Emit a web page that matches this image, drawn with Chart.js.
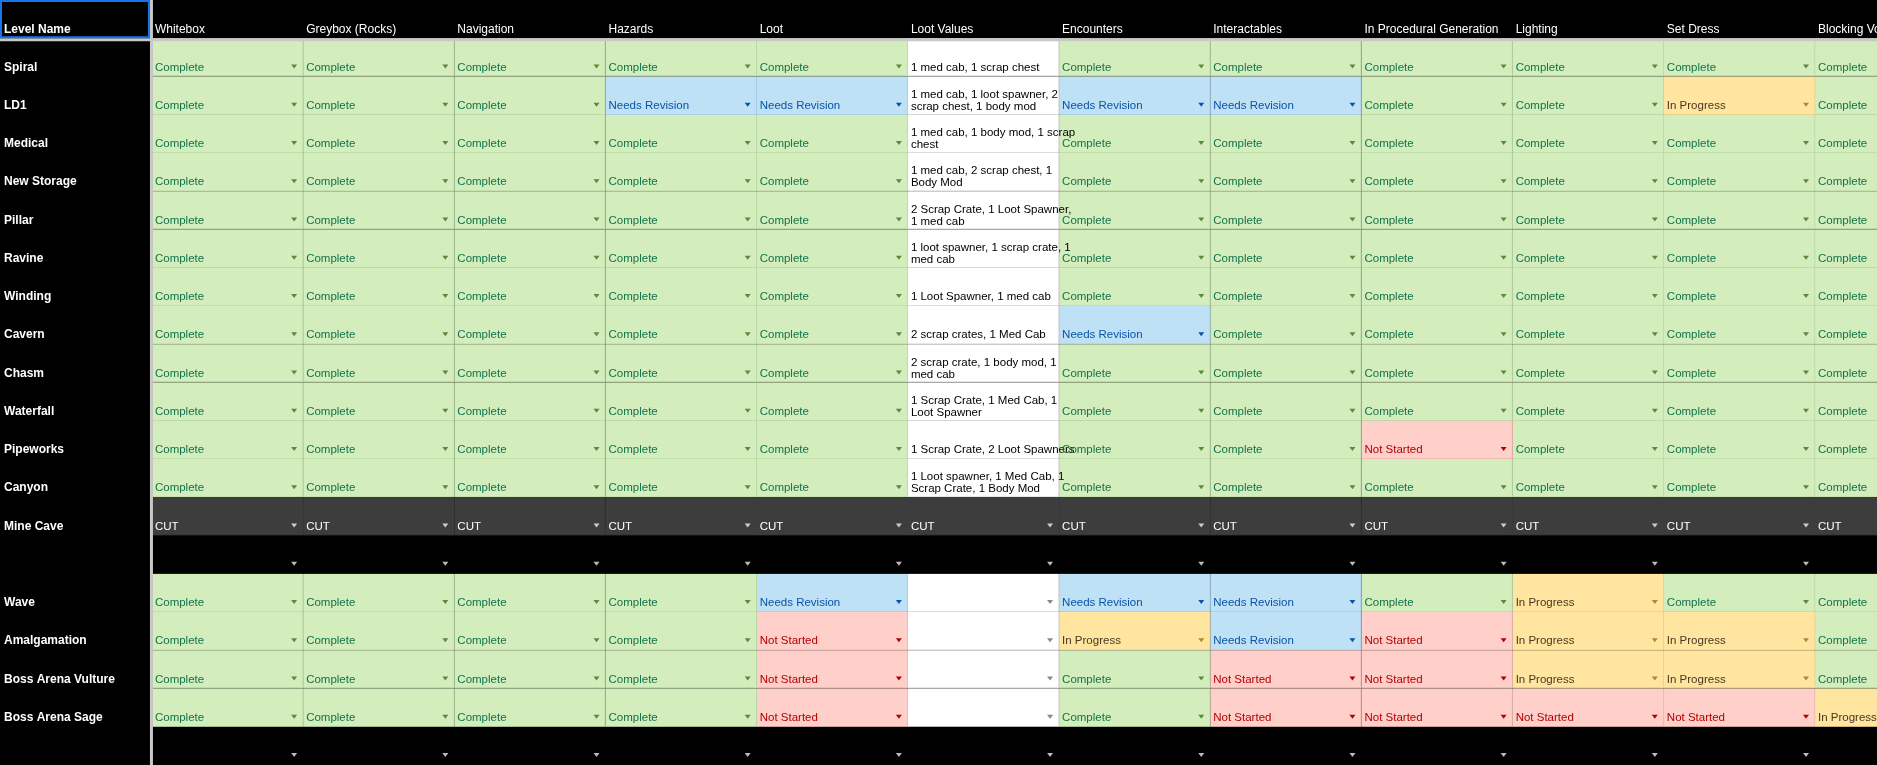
<!DOCTYPE html>
<html><head><meta charset="utf-8">
<script src="https://cdn.jsdelivr.net/npm/chart.js@4.4.1/dist/chart.umd.min.js"></script>
<style>html,body{margin:0;padding:0;background:#000;}#wrap{width:1877px;height:765px;}</style>
</head><body><div id="wrap"><canvas id="c"></canvas></div>
<script>
const columns = ['Whitebox','Greybox (Rocks)','Navigation','Hazards','Loot','Loot Values','Encounters','Interactables','In Procedural Generation','Lighting','Set Dress','Blocking Volumes'];
const levels = ['Spiral','LD1','Medical','New Storage','Pillar','Ravine','Winding','Cavern','Chasm','Waterfall','Pipeworks','Canyon','Mine Cave','','Wave','Amalgamation','Boss Arena Vulture','Boss Arena Sage',''];
// C=Complete N=Needs Revision P=In Progress S=Not Started X=CUT E=empty W=loot text
const status = [
 'CCCCCWCCCCCC',
 'CCCNNWNNCCPC',
 'CCCCCWCCCCCC',
 'CCCCCWCCCCCC',
 'CCCCCWCCCCCC',
 'CCCCCWCCCCCC',
 'CCCCCWCCCCCC',
 'CCCCCWNCCCCC',
 'CCCCCWCCCCCC',
 'CCCCCWCCCCCC',
 'CCCCCWCCSCCC',
 'CCCCCWCCCCCC',
 'XXXXXXXXXXXX',
 'EEEEEEEEEEEE',
 'CCCCNWNNCPCC',
 'CCCCSWPNSPPC',
 'CCCCSWCSSPPC',
 'CCCCSWCSSSSP',
 'EEEEEEEEEEEE'
];
const lootValues = ['1 med cab, 1 scrap chest','1 med cab, 1 loot spawner, 2\nscrap chest, 1 body mod','1 med cab, 1 body mod, 1 scrap\nchest','1 med cab, 2 scrap chest, 1\nBody Mod','2 Scrap Crate, 1 Loot Spawner,\n1 med cab','1 loot spawner, 1 scrap crate, 1\nmed cab','1 Loot Spawner, 1 med cab','2 scrap crates, 1 Med Cab','2 scrap crate, 1 body mod, 1\nmed cab','1 Scrap Crate, 1 Med Cab, 1\nLoot Spawner','1 Scrap Crate, 2 Loot Spawners','1 Loot spawner, 1 Med Cab, 1\nScrap Crate, 1 Body Mod','CUT','','','','','',''];

const STY = {
 C:{bg:'#d4edbc',fg:'#11734b',bd:'#b9d9a3',txt:'Complete',tri:'#5a8a3a'},
 N:{bg:'#bfe1f6',fg:'#0a53a8',bd:'#a3cbe6',txt:'Needs Revision',tri:'#0a53a8'},
 P:{bg:'#ffe5a0',fg:'#473821',bd:'#e8cf8a',txt:'In Progress',tri:'#b08a2a'},
 S:{bg:'#ffcfc9',fg:'#b10202',bd:'#eab6b0',txt:'Not Started',tri:'#b10202'},
 X:{bg:'#3d3d3d',fg:'#ffffff',bd:'#3d3d3d',txt:'CUT',tri:'#cccccc'},
 E:{bg:'#000000',fg:'#ffffff',bd:'#000000',txt:'',tri:'#bbbbbb'},
 W:{bg:'#ffffff',fg:'#000000',bd:'#d0d0d0',txt:'',tri:'#888888'}
};
const LEFTW = 1.005;
const yLabels = ['__header__'].concat(levels.map((l,i)=>'r'+i));
const datasets = [];
// level name column
datasets.push({label:'Level Name',data:yLabels.map(()=>[-LEFTW,0]),backgroundColor:'#000',borderWidth:0,meta:{kind:'level'}});
columns.forEach((col,j)=>{
  const bg=[],bd=[];
  yLabels.forEach((_,i)=>{
    if(i===0){bg.push('#000');bd.push('#000');return;}
    const s=STY[status[i-1][j]]; bg.push(s.bg); bd.push(s.bd);
  });
  datasets.push({label:col,data:yLabels.map(()=>[j,j+1]),backgroundColor:bg,borderColor:bd,
    borderWidth:{top:0,left:0,right:1,bottom:1},borderSkipped:false,meta:{kind:'col',j}});
});

const F='"Liberation Sans", Arial, sans-serif';
const textPlugin={id:'cells',
 beforeDraw(ch){const c=ch.ctx;c.save();c.fillStyle='#000';c.fillRect(0,0,ch.width,ch.height);c.restore();},
 afterDatasetsDraw(ch){
  const c=ch.ctx;c.save();c.textAlign='left';c.textBaseline='alphabetic';
  ch.data.datasets.forEach((ds,di)=>{
   const meta=ch.getDatasetMeta(di);
   meta.data.forEach((el,i)=>{
    const p=el.getProps(['x','y','base','height'],true);
    const left=Math.min(p.x,p.base), right=Math.max(p.x,p.base);
    const bottom=p.y+p.height/2;
    if(ds.meta.kind==='level'){
      c.fillStyle='#fff';c.font='bold 12px '+F;
      const t=i===0?'Level Name':levels[i-1];
      c.fillText(t,left+4,bottom-(i===0?5:6));
      return;
    }
    const j=ds.meta.j;
    if(i===0){c.fillStyle='#fff';c.font='12px '+F;c.fillText(columns[j],left+3,bottom-5);return;}
    const code=status[i-1][j];const s=STY[code];
    let txt=code==='W'?lootValues[i-1]:s.txt;
    c.fillStyle=s.fg;c.font='11.5px '+F;
    const lines=txt.split('\n');
    if(lines.length===2){c.fillText(lines[0],left+3,bottom-17);c.fillText(lines[1],left+3,bottom-5);}
    else c.fillText(lines[0],left+3,bottom-6);
    const hasTri = code!=='W' || (i-1)>=13;
    if(hasTri){
      const tx=right-9, ty=bottom-12;
      c.fillStyle=s.tri;c.beginPath();c.moveTo(tx-3,ty);c.lineTo(tx+3,ty);c.lineTo(tx,ty+4);c.closePath();c.fill();
    }
   });
  });
  // separators
  const y0=ch.scales.y.getPixelForValue(0)+ (ch.scales.y.getPixelForValue(1)-ch.scales.y.getPixelForValue(0))/2;
  const xl=ch.scales.x.getPixelForValue(0);
  c.fillStyle='#c8c8c8';c.fillRect(0,y0,ch.width,3);c.fillRect(xl-2,0,3,ch.height);
  c.strokeStyle='#1a73e8';c.lineWidth=2;c.strokeRect(1,1,xl-4,y0-2);
  c.restore();
 }};

new Chart(document.getElementById('c'),{type:'bar',
 data:{labels:yLabels,datasets},
 options:{indexAxis:'y',responsive:true,maintainAspectRatio:false,animation:false,
  layout:{padding:0},
  datasets:{bar:{grouped:false,categoryPercentage:1,barPercentage:1}},
  plugins:{legend:{display:false},tooltip:{enabled:false}},
  scales:{x:{type:'linear',min:-LEFTW,max:11.41,display:false},
          y:{type:'category',display:false,offset:true}}},
 plugins:[textPlugin]});
</script></body></html>
